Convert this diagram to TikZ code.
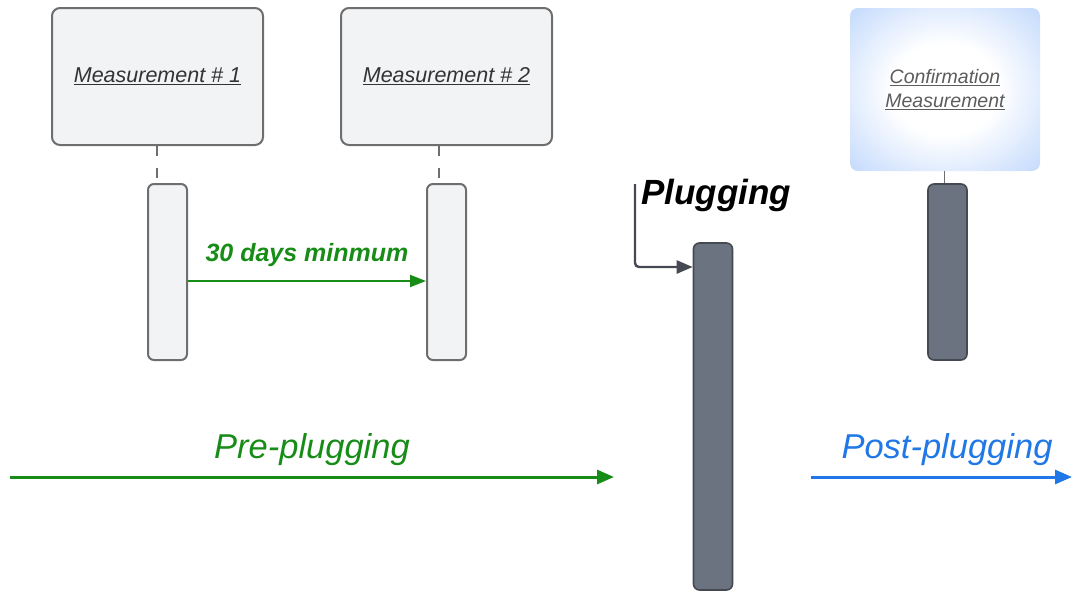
\documentclass[tikz,border=0pt]{standalone}
\usepackage{fontspec}
\setmainfont{Liberation Sans}
\usetikzlibrary{arrows.meta,calc}
\definecolor{boxfill}{HTML}{F2F3F5}
\definecolor{boxline}{HTML}{6E6E6E}
\definecolor{darkfill}{HTML}{6B7280}
\definecolor{darkline}{HTML}{454A52}
\definecolor{mygreen}{HTML}{178C17}
\definecolor{myblue}{HTML}{1F78E6}
\definecolor{cblue}{HTML}{C2D9FC}
\definecolor{txtgrey}{HTML}{333333}
\pgfdeclareradialshading{confshade}{\pgfpoint{0bp}{0bp}}{color(0bp)=(white); color(14bp)=(white); color(36bp)=(cblue); color(75bp)=(cblue)}
\tikzset{
  measbox/.style={draw=boxline, line width=2pt, fill=boxfill, rounded corners=8pt, minimum width=211pt, minimum height=137pt, inner sep=0pt, font=\fontsize{21.5}{24}\selectfont\itshape, text=txtgrey},
  lifelight/.style={draw=boxline, line width=2pt, fill=boxfill, rounded corners=6pt, minimum width=39pt, minimum height=176pt, inner sep=0pt},
  lifedark/.style={draw=darkline, line width=1.6pt, fill=darkfill, rounded corners=6pt, minimum width=39pt, inner sep=0pt},
  dashlink/.style={draw=boxline, line width=2pt, dash pattern=on 10pt off 12pt},
  greenarrow/.style={draw=mygreen, line width=2pt, -{Triangle[length=16pt,width=12pt]}},
  phasearrow/.style={line width=3pt, -{Triangle[length=17pt,width=14pt]}},
  phaselabel/.style={font=\fontsize{34.5}{38}\selectfont\itshape, inner sep=0pt}
}
\begin{document}
\begin{tikzpicture}[x=1pt,y=-1pt]
\useasboundingbox (0,0) rectangle (1072,592);
% measurement boxes
\node[measbox] (box1) at (157.5,76.5) {\raisebox{3pt}{\underline{Measurement \# 1}}};
\node[measbox] (box2) at (446.5,76.5) {\raisebox{3pt}{\underline{Measurement \# 2}}};
% confirmation box
\node[shading=confshade, rounded corners=8pt, minimum width=190pt, minimum height=163pt, inner sep=0pt, align=center, font=\fontsize{19.5}{24}\selectfont\itshape, text=txtgrey!80] (box3) at (945,89.5) {\underline{Confirmation}\\\underline{Measurement}};
% lifelines
\node[lifelight] (l1) at (167.5,272) {};
\node[lifelight] (l2) at (446.5,272) {};
\node[lifedark, minimum height=176pt] (l3) at (947.5,272) {};
\node[lifedark, minimum height=347pt] (plug) at (713,416.5) {};
% links boxes to lifelines
\draw[dashlink] ([xshift=-10.5pt]l1.north |- box1.south) -- ([xshift=-10.5pt]l1.north);
\draw[dashlink] ([xshift=-7.5pt]l2.north |- box2.south) -- ([xshift=-7.5pt]l2.north);
\draw[draw=boxline, line width=1.5pt] ([xshift=-3pt]l3.north |- box3.south) -- ([xshift=-3pt]l3.north);
% 30 days arrow
\draw[greenarrow] ([yshift=-9pt]l1.east) -- node[above=13pt, font=\fontsize{25}{28}\selectfont\bfseries\itshape, text=mygreen, inner sep=0pt] (lab30) {30 days minmum} ([yshift=-9pt]l2.west);
% plugging arrow
\coordinate (pstart) at (635,184);
\node[font=\fontsize{35}{38}\selectfont\bfseries\itshape, anchor=west, inner sep=0pt] (plab) at (641,195) {Plugging};
\draw[draw=darkline, line width=2.4pt, rounded corners=4pt, -{Triangle[length=16pt,width=13pt]}] (pstart) |- ([yshift=149.5pt]plug.west);
% phase arrows
\coordinate (pres) at (10,477);
\coordinate (pree) at (614,477);
\draw[phasearrow, draw=mygreen, fill=mygreen] (pres) -- (pree);
\node[phaselabel, text=mygreen] (prelab) at (312,450) {Pre-plugging};
\coordinate (posts) at (811,477);
\coordinate (poste) at (1072,477);
\draw[phasearrow, draw=myblue, fill=myblue] (posts) -- (poste);
\node[phaselabel, text=myblue] (postlab) at (947,450) {Post-plugging};
\end{tikzpicture}
\end{document}
